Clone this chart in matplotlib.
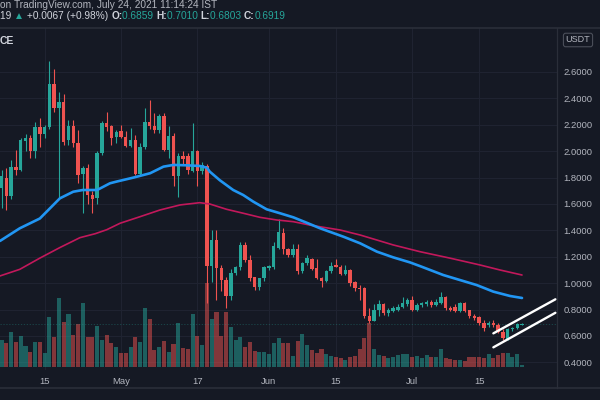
import numpy as np
import pandas as pd
import matplotlib
matplotlib.use("Agg")
import matplotlib.pyplot as plt
from matplotlib.lines import Line2D

# ---------------- data ----------------
start_date = "2021-04-06"
open_ = [1.72, 1.80, 1.66, 1.88, 1.86, 2.08, 2.10, 2.00, 2.18, 2.13,
         2.18, 2.51, 2.33, 2.375, 2.085, 2.19, 2.06, 1.83, 1.87, 1.67,
         1.645, 1.99, 2.21, 2.19, 2.105, 2.15, 2.11, 2.04, 2.085, 1.83,
         2.03, 2.22, 2.19, 2.16, 2.27, 2.01, 2.115, 1.81, 1.96, 1.96,
         1.85, 2.00, 1.85, 1.885, 1.13, 1.327, 1.113, 1.024, 0.903, 1.075,
         1.125, 1.29, 1.175, 1.044, 0.972, 1.036, 1.113, 1.12, 1.27, 1.38,
         1.26, 1.21, 1.26, 1.095, 1.15, 1.18, 1.113, 1.04, 1.016, 1.09,
         1.138, 1.125, 1.067, 1.10, 1.01, 0.967, 0.96, 0.752, 0.716, 0.797,
         0.842, 0.772, 0.79, 0.797, 0.818, 0.842, 0.873, 0.80, 0.835, 0.84,
         0.86, 0.835, 0.848, 0.893, 0.81, 0.822, 0.79, 0.848, 0.797, 0.752,
         0.742, 0.70, 0.683, 0.70, 0.683, 0.633, 0.58, 0.65, 0.66, 0.6859]
high = [1.86, 1.87, 1.93, 2.01, 2.10, 2.13, 2.12, 2.22, 2.25, 2.20,
        2.68, 2.62, 2.45, 2.43, 2.24, 2.24, 2.16, 1.89, 1.90, 1.70,
        2.00, 2.23, 2.30, 2.20, 2.16, 2.20, 2.15, 2.176, 2.12, 2.06,
        2.325, 2.39, 2.29, 2.28, 2.29, 2.19, 2.14, 1.99, 2.00, 1.99,
        2.21, 2.01, 1.92, 1.90, 1.40, 1.40, 1.14, 1.05, 1.11, 1.13,
        1.31, 1.31, 1.21, 1.05, 1.04, 1.13, 1.14, 1.31, 1.484, 1.42,
        1.27, 1.30, 1.30, 1.16, 1.21, 1.19, 1.18, 1.05, 1.10, 1.16,
        1.18, 1.14, 1.14, 1.11, 1.02, 0.99, 0.97, 0.81, 0.84, 0.87,
        0.85, 0.81, 0.83, 0.84, 0.898, 0.89, 0.90, 0.85, 0.86, 0.87,
        0.87, 0.88, 0.935, 0.90, 0.83, 0.84, 0.86, 0.86, 0.80, 0.77,
        0.75, 0.72, 0.71, 0.72, 0.70, 0.65, 0.66, 0.67, 0.70, 0.7010]
low = [1.57, 1.555, 1.64, 1.82, 1.85, 2.00, 1.95, 1.95, 2.03, 2.10,
       2.17, 2.30, 1.645, 2.05, 2.05, 2.03, 1.76, 1.53, 1.60, 1.53,
       1.60, 1.97, 2.15, 2.05, 2.06, 2.10, 2.03, 2.03, 1.82, 1.82,
       2.02, 2.17, 2.14, 2.14, 2.00, 1.95, 1.74, 1.655, 1.90, 1.83,
       1.84, 1.74, 1.83, 0.85, 1.01, 0.873, 0.94, 0.812, 0.87, 1.06,
       1.10, 1.16, 1.02, 0.95, 0.95, 1.02, 1.10, 1.11, 1.26, 1.22,
       1.20, 1.20, 1.07, 1.08, 1.14, 1.10, 1.03, 0.97, 1.01, 1.08,
       1.12, 1.06, 1.06, 0.98, 0.94, 0.873, 0.74, 0.70, 0.71, 0.75,
       0.76, 0.75, 0.78, 0.79, 0.81, 0.83, 0.79, 0.79, 0.82, 0.83,
       0.82, 0.83, 0.84, 0.80, 0.79, 0.78, 0.78, 0.78, 0.74, 0.72,
       0.68, 0.64, 0.67, 0.67, 0.62, 0.57, 0.57, 0.64, 0.65, 0.6803]
close = [1.81, 1.66, 1.88, 1.86, 2.085, 2.10, 2.00, 2.18, 2.13, 2.18,
         2.51, 2.33, 2.375, 2.07, 2.19, 2.06, 1.82, 1.87, 1.67, 1.64,
         1.99, 2.21, 2.185, 2.10, 2.148, 2.105, 2.04, 2.085, 1.83, 2.03,
         2.22, 2.19, 2.16, 2.27, 2.01, 2.115, 1.81, 1.96, 1.94, 1.86,
         2.00, 1.85, 1.895, 1.13, 1.327, 1.113, 1.024, 0.903, 1.075, 1.125,
         1.29, 1.175, 1.036, 0.972, 1.036, 1.12, 1.13, 1.28, 1.39, 1.26,
         1.21, 1.26, 1.095, 1.15, 1.19, 1.11, 1.036, 1.016, 1.09, 1.13,
         1.125, 1.067, 1.10, 1.004, 0.96, 0.953, 0.752, 0.716, 0.797, 0.842,
         0.772, 0.797, 0.81, 0.822, 0.848, 0.873, 0.80, 0.835, 0.848, 0.86,
         0.835, 0.86, 0.893, 0.81, 0.80, 0.79, 0.848, 0.79, 0.752, 0.734,
         0.696, 0.658, 0.696, 0.683, 0.633, 0.587, 0.65, 0.66, 0.69, 0.6919]
volume_m = [27.3, 24, 35.7, 25, 31.3, 21.7, 15.7, 25, 25.7, 14.7,
            50.7, 30, 69.7, 45, 53.3, 32.3, 43, 64.7, 30, 30.3,
            41.3, 27.3, 32.3, 24, 20.7, 14, 14, 20, 30, 25,
            59, 48, 17.3, 20, 26.7, 15.7, 23, 44, 19.3, 18.3,
            53.3, 31.7, 22.3, 84.7, 48, 55, 31.7, 55.7, 40.7, 27.3,
            30, 20.7, 25.7, 16.3, 15, 15, 13.3, 24, 29, 24.7,
            24, 11.3, 26.3, 33.3, 22.3, 17.3, 14, 18, 13.3, 11.3,
            10.7, 9.7, 7.3, 10, 11.5, 18.2, 29, 44, 18, 12.3,
            11.7, 9.7, 10.7, 12.3, 13.7, 13.7, 10.7, 11.7, 9, 12.3,
            10.7, 10.7, 18, 9.7, 8.3, 7.3, 7.3, 6.7, 10.7, 10.7,
            10.7, 9.7, 13, 9, 12.3, 14, 14, 10.7, 13, 2.3]

# moving averages (day index, price)
ma_fast_x = [-0.35, 3.8, 8.0, 12.2, 15.0, 17.0, 20.0, 22.7, 24.1, 27.6, 31.1, 33.9,
             36.0, 38.8, 41.5, 43.0, 43.6, 45.7, 48.5, 50.6, 52.7, 55.5, 58.3, 61.1,
             63.9, 66.7, 71.6, 75.1, 78.6, 82.0, 85.5, 87.6, 92.5, 99.5, 103.0, 106.5, 109.0]
ma_fast_y = [1.32, 1.416, 1.49, 1.643, 1.693, 1.706, 1.706, 1.757, 1.77, 1.80, 1.833, 1.883,
             1.896, 1.893, 1.888, 1.875, 1.845, 1.78, 1.706, 1.668, 1.618, 1.56, 1.53, 1.499,
             1.458, 1.416, 1.352, 1.302, 1.239, 1.196, 1.158, 1.13, 1.062, 0.986, 0.936, 0.903, 0.888]
ma_slow_x = [-0.35, 3.8, 8.0, 12.2, 16.4, 19.6, 22.0, 24.8, 29.0, 33.2, 37.4, 41.5,
             43.6, 47.1, 50.6, 54.1, 57.6, 61.1, 64.6, 70.9, 75.1, 78.6, 82.0, 87.6,
             93.9, 100.2, 104.4, 109.0]
ma_slow_y = [1.055, 1.105, 1.19, 1.27, 1.345, 1.375, 1.405, 1.454, 1.504, 1.555, 1.593, 1.61,
             1.60, 1.56, 1.53, 1.499, 1.479, 1.466, 1.44, 1.403, 1.365, 1.327, 1.29, 1.239,
             1.19, 1.138, 1.10, 1.062]

# drawn channel
channel_x = [103.0, 116.0]
channel_upper = [0.62, 0.878]
channel_lower = [0.514, 0.776]

price_ticks = [0.4, 0.6, 0.8, 1.0, 1.2, 1.4, 1.6, 1.8, 2.0, 2.2, 2.4, 2.6]
tick_dates = ["2021-04-15", "2021-05-01", "2021-05-17", "2021-06-01",
              "2021-06-15", "2021-07-01", "2021-07-15"]
tick_labels = ["15", "May", "17", "Jun", "15", "Jul", "15"]

# ---------------- style ----------------
BG = "#151924"
GRID = "#1f2331"
UP = "#26a69a"
DN = "#ef5350"
TXT = "#b2b5be"
SEP = "#2a2e39"
FONT = ["Liberation Sans", "DejaVu Sans"]
plt.rcParams["font.family"] = FONT

W, H = 600, 400
fig = plt.figure(figsize=(6, 4), dpi=100, facecolor=BG)

def fx(px):
    return px / W

def fy(py):
    return 1 - py / H

YMIN, YMAX = 0.3424, 2.9333
rect = [0, fy(370), fx(557), (370 - 28) / H]
ax_v = fig.add_axes(rect, facecolor=BG)
ax = fig.add_axes(rect, sharex=ax_v)
ax.patch.set_alpha(0)

dates = pd.date_range(start_date, periods=len(close))
x = np.arange(len(dates))
o = np.array(open_); h = np.array(high); l = np.array(low); c = np.array(close)
up = c >= o
col = np.where(up, UP, DN)
tick_pos = [dates.get_loc(pd.Timestamp(d)) for d in tick_dates]

# volume (bottom overlay)
ax_v.bar(x, volume_m, width=0.85, color=col, alpha=0.5, linewidth=0)
ax_v.set_ylim(-2.7, 339.3)
ax_v.set_yticks([])
for s in ax_v.spines.values():
    s.set_visible(False)
ax_v.tick_params(axis="x", length=0, labelbottom=False)

# grid (drawn beneath everything on the volume axes)
for t in tick_pos:
    ax_v.axvline(t, color=GRID, lw=0.8, zorder=0)
for p in price_ticks:
    ax_v.axhline((p - YMIN) / (YMAX - YMIN) * 342 - 2.7, color=GRID, lw=0.8, zorder=0)

# candles
ax.vlines(x, l, h, colors=col, linewidth=0.8, zorder=3)
body_lo = np.minimum(o, c)
body_h = np.maximum(np.abs(c - o), 0.004)
ax.bar(x, body_h, bottom=body_lo, width=0.72, color=col, linewidth=0, zorder=4)

# moving averages
ax.plot(ma_slow_x, ma_slow_y, color="#c2185b", lw=1.2, zorder=5, solid_capstyle="round")
ax.plot(ma_fast_x, ma_fast_y, color="#2196f3", lw=1.9, zorder=5, solid_capstyle="round")

# last price line
ax.axhline(close[-1], color=UP, lw=0.6, ls=(0, (1.5, 2)), alpha=0.35, zorder=2)

# channel
ax.plot(channel_x, channel_upper, color="white", lw=1.7, zorder=6, solid_capstyle="round")
ax.plot(channel_x, channel_lower, color="white", lw=1.7, zorder=6, solid_capstyle="round")

ax.set_xlim(-0.346, 116.33)
ax.set_ylim(YMIN, YMAX)
ax.yaxis.tick_right()
ax.set_yticks(price_ticks)
ax.set_yticklabels([f"{p:.4f}" for p in price_ticks])
ax.tick_params(axis="y", length=0, pad=4.5, labelsize=6.8, labelcolor=TXT)
ax.set_xticks(tick_pos)
ax.set_xticklabels(tick_labels)
ax.tick_params(axis="x", length=0, pad=5, labelsize=6.8, labelcolor=TXT)
for s in ax.spines.values():
    s.set_visible(False)

# frame lines
fig.add_artist(Line2D([0, 1], [fy(27.5), fy(27.5)], color=SEP, lw=1.2))
fig.add_artist(Line2D([fx(557), fx(557)], [fy(27.5), fy(388)], color=SEP, lw=0.9))
fig.add_artist(Line2D([0, 1], [fy(388), fy(388)], color=SEP, lw=1.2))

# header
fs = 7.3
fig.text(0, fy(5), "on TradingView.com, July 24, 2021 11:14:24 IST", color=TXT,
         fontsize=fs, va="center", ha="left")
t = fig.text(0, fy(16), "19 ", color="#d1d4dc", fontsize=fs, va="center", ha="left")

def chain(prev, s, color, weight="normal"):
    return ax.annotate(s, xy=(1, 0), xycoords=prev, va="bottom", ha="left",
                       color=color, fontsize=fs, fontweight=weight,
                       annotation_clip=False, family=FONT)

parts = [("\u25B2", UP, "normal"), (" +0.0067 (+0.98%) ", "#d1d4dc", "normal"),
         ("O:", "#d1d4dc", "bold"), ("0.6859 ", UP, "normal"),
         ("H:", "#d1d4dc", "bold"), ("0.7010 ", UP, "normal"),
         ("L:", "#d1d4dc", "bold"), ("0.6803 ", UP, "normal"),
         ("C:", "#d1d4dc", "bold"), ("0.6919", UP, "normal")]
for s, colr, wt in parts:
    t = chain(t, s, colr, wt)

fig.text(0, fy(41), "CE", color="#d1d4dc", fontsize=7.5, fontweight="bold",
         va="center", ha="left")

# USDT box
fig.text(fx(578), fy(40), "USDT", color=TXT, fontsize=6.5, ha="center", va="center",
         bbox=dict(boxstyle="round,pad=0.25", fc=BG, ec="#4a4e59", lw=0.8))

fig.savefig("out.png", dpi=100, facecolor=BG)
